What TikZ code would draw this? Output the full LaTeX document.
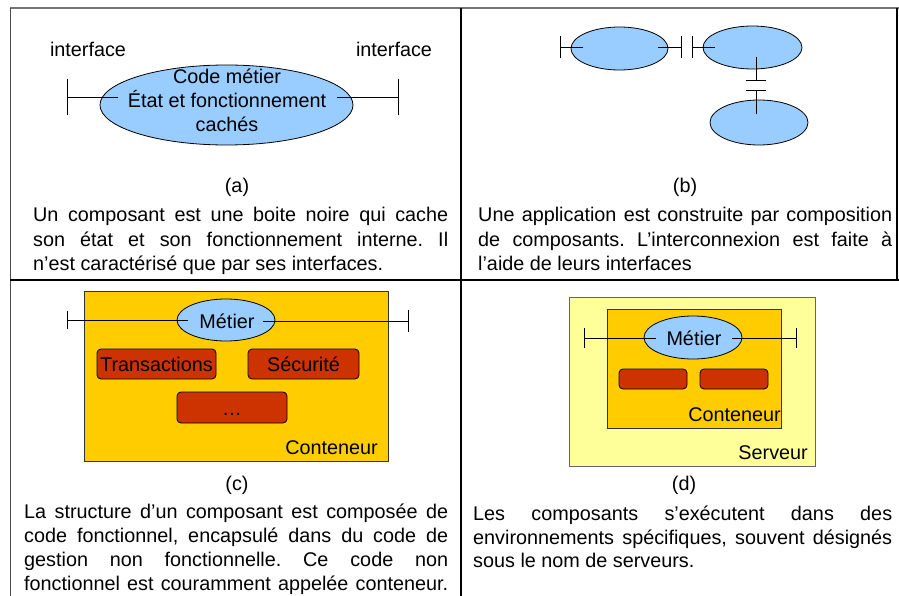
\documentclass[tikz,border=0pt]{standalone}
\usepackage{fontspec}
\setmainfont{Liberation Sans}
\usetikzlibrary{shapes.geometric}
\definecolor{compblue}{HTML}{99CCFF}
\definecolor{contyellow}{HTML}{FFCC00}
\definecolor{servyellow}{HTML}{FFFF99}
\definecolor{svcred}{HTML}{CC3300}
\newcommand\figfont{\fontsize{19.8}{24}\selectfont\frenchspacing}
\begin{document}
\begin{tikzpicture}[x=1pt,y=-1pt,
  txt/.style={inner sep=0pt, font=\figfont},
  comp/.style={ellipse, draw=black, line width=0.8pt, fill=compblue, inner sep=0pt},
  iface/.style={draw=black, line width=0.8pt},
  svc/.style={rectangle, rounded corners=4pt, draw=black, line width=0.8pt, fill=svcred, inner sep=0pt},
  contbox/.style={rectangle, draw=black!80, line width=0.8pt, fill=contyellow, inner sep=0pt, anchor=north west},
  servbox/.style={rectangle, draw=black!60, line width=0.8pt, fill=servyellow, inner sep=0pt, anchor=north west}
]
\useasboundingbox (0,0) rectangle (899,596);
\fill[white] (0,0) rectangle (899,596);

% table rules
\draw[black!55, line width=1.6pt] (10,8) -- (899,8);
\draw[black!70, line width=1pt] (10,8) -- (10,596);
\draw[line width=2pt] (897,8) -- (897,280);
\draw[line width=1.4pt] (461,8) -- (461,596);
\draw[line width=2.2pt] (10,280) -- (899,280);

% ---------- (a) ----------
\node[comp, minimum width=253pt, minimum height=80pt] (ea) at (226.5,105) {};
\coordinate (aL) at (67,97);  \coordinate (aLi) at (118,97);
\coordinate (aR) at (398,97); \coordinate (aRi) at (337,97);
\draw[iface] (aL) -- (aLi);
\draw[iface] ([yshift=18pt]aL) -- ([yshift=-18pt]aL);
\draw[iface] (aRi) -- (aR);
\draw[iface] ([yshift=18pt]aR) -- ([yshift=-18pt]aR);
\node[txt, anchor=base] (ifl) at (88,57) {interface};
\node[txt, anchor=base] (ifr) at (394,57) {interface};
\node[txt, anchor=base] (a1) at (227,84) {Code métier};
\node[txt, anchor=base] (a2) at (227,108) {État et fonctionnement};
\node[txt, anchor=base] (a3) at (227,132) {cachés};
\node[txt, anchor=base] (la) at (237,193) {(a)};
\node[txt, anchor=base west] (ca1) at (33,222) {\makebox[415pt][s]{Un composant est une boite noire qui cache}};
\node[txt, anchor=base west] (ca2) at (33,246) {\makebox[415pt][s]{son état et son fonctionnement interne. Il}};
\node[txt, anchor=base west] (ca3) at (33,270) {n’est caractérisé que par ses interfaces.};

% ---------- (b) ----------
\node[comp, minimum width=97pt, minimum height=43pt] (b1) at (619.5,48.5) {};
\node[comp, minimum width=99pt, minimum height=43pt] (b2) at (752.5,47.5) {};
\node[comp, minimum width=98pt, minimum height=45pt] (b3) at (759,122.5) {};
\coordinate (b1L) at (560,47);  \coordinate (b1Li) at (583,47);
\coordinate (b1R) at (681,47);  \coordinate (b1Ri) at (658,47);
\coordinate (b2L) at (692,47);  \coordinate (b2Li) at (715,47);
\coordinate (b2B) at (756,80);  \coordinate (b2Bi) at (756,57);
\coordinate (b3T) at (756,90);  \coordinate (b3Ti) at (756,114);
\draw[iface] (b1L) -- (b1Li);
\draw[iface] ([yshift=11pt]b1L) -- ([yshift=-11pt]b1L);
\draw[iface] (b1Ri) -- (b1R);
\draw[iface] ([yshift=11pt]b1R) -- ([yshift=-11pt]b1R);
\draw[iface] (b2L) -- (b2Li);
\draw[iface] ([yshift=11pt]b2L) -- ([yshift=-11pt]b2L);
\draw[iface] (b2Bi) -- (b2B);
\draw[iface] ([xshift=-10pt]b2B) -- ([xshift=10pt]b2B);
\draw[iface] (b3T) -- (b3Ti);
\draw[iface] ([xshift=-10pt]b3T) -- ([xshift=10pt]b3T);
\node[txt, anchor=base] (lb) at (685,193) {(b)};
\node[txt, anchor=base west] (cb1) at (478,222) {\makebox[414pt][s]{Une application est construite par composition}};
\node[txt, anchor=base west] (cb2) at (478,246) {\makebox[414pt][s]{de composants. L’interconnexion est faite à}};
\node[txt, anchor=base west] (cb3) at (478,270) {l’aide de leurs interfaces};

% ---------- (c) ----------
\node[contbox, minimum width=304pt, minimum height=170pt] (contc) at (84,291) {};
\node[comp, minimum width=98pt, minimum height=42pt] (mc) at (226,320) {};
\coordinate (cL) at (67,320);  \coordinate (cLi) at (188,320);
\coordinate (cR) at (408,321); \coordinate (cRi) at (263,321);
\draw[iface] (cL) -- (cLi);
\draw[iface] ([yshift=9pt]cL) -- ([yshift=-9pt]cL);
\draw[iface] (cRi) -- (cR);
\draw[iface] ([yshift=11pt]cR) -- ([yshift=-11pt]cR);
\node[txt, anchor=base] (mct) at (227,328) {Métier};
\node[svc, minimum width=119pt, minimum height=30pt] (tr) at (156.5,364) {};
\node[svc, minimum width=111pt, minimum height=30pt] (se) at (303.5,364) {};
\node[svc, minimum width=110pt, minimum height=31pt] (etc) at (232,407.5) {};
\node[txt, anchor=base] (trt) at (156.5,371) {Transactions};
\node[txt, anchor=base] (set) at (303.5,371) {Sécurité};
\node[txt, anchor=base] (etct) at (232,415) {…};
\node[txt, anchor=base east] (cnc) at (378,454) {Conteneur};
\node[txt, anchor=base] (lc) at (237,490) {(c)};
\node[txt, anchor=base west] (cc1) at (24,518) {\makebox[424pt][s]{La structure d’un composant est composée de}};
\node[txt, anchor=base west] (cc2) at (24,542) {\makebox[424pt][s]{code fonctionnel, encapsulé dans du code de}};
\node[txt, anchor=base west] (cc3) at (24,566) {\makebox[424pt][s]{gestion non fonctionnelle. Ce code non}};
\node[txt, anchor=base west] (cc4) at (24,590) {\makebox[424pt][s]{fonctionnel est couramment appelée conteneur.}};

% ---------- (d) ----------
\node[servbox, minimum width=246pt, minimum height=169pt] (servd) at (569,297) {};
\node[contbox, minimum width=174pt, minimum height=119pt] (contd) at (607,309) {};
\node[comp, minimum width=98pt, minimum height=43pt] (md) at (693,337.5) {};
\coordinate (dL) at (584,338);  \coordinate (dLi) at (656,338);
\coordinate (dR) at (796,338);  \coordinate (dRi) at (732,338);
\draw[iface] (dL) -- (dLi);
\draw[iface] ([yshift=10pt]dL) -- ([yshift=-10pt]dL);
\draw[iface] (dRi) -- (dR);
\draw[iface] ([yshift=10pt]dR) -- ([yshift=-10pt]dR);
\node[txt, anchor=base] (mdt) at (694,345) {Métier};
\node[svc, minimum width=68pt, minimum height=20pt] (r1) at (653,379) {};
\node[svc, minimum width=68pt, minimum height=20pt] (r2) at (734,379) {};
\node[txt, anchor=base east] (cnd) at (781,421) {Conteneur};
\node[txt, anchor=base east] (svd) at (808,459) {Serveur};
\node[txt, anchor=base] (ld) at (684,490) {(d)};
\node[txt, anchor=base west] (cd1) at (473,520) {\makebox[419pt][s]{Les composants s’exécutent dans des}};
\node[txt, anchor=base west] (cd2) at (473,544) {\makebox[419pt][s]{environnements spécifiques, souvent désignés}};
\node[txt, anchor=base west] (cd3) at (473,567) {sous le nom de serveurs.};
\end{tikzpicture}
\end{document}
